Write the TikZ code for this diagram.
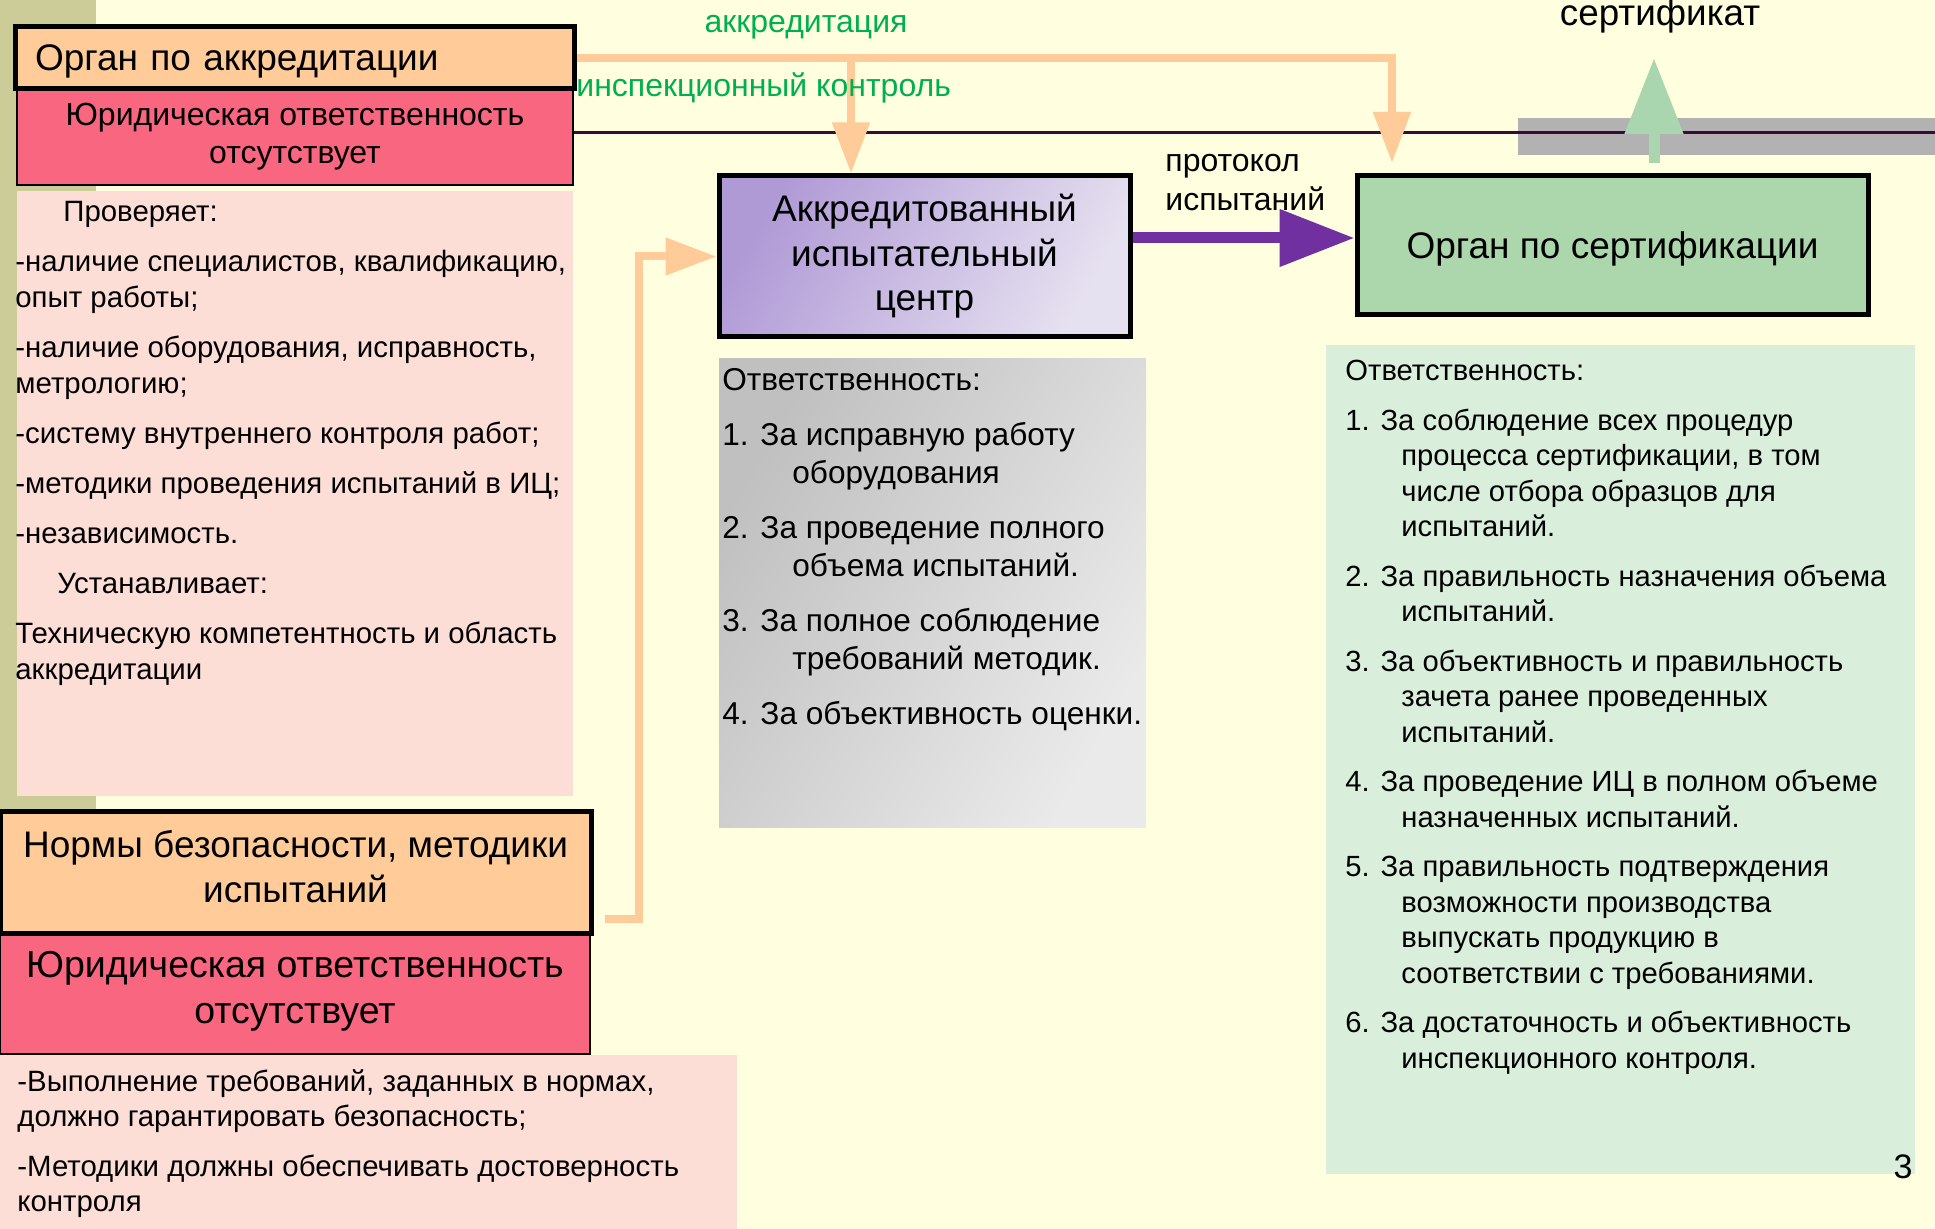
\documentclass[tikz,border=0pt]{standalone}
\usepackage{fontspec}
\setmainfont{Liberation Sans}
\usetikzlibrary{arrows.meta}

\definecolor{bgA}{RGB}{255,255,224}
\definecolor{oliveA}{RGB}{204,204,153}
\definecolor{orangeA}{RGB}{255,204,153}
\definecolor{redA}{RGB}{249,102,128}
\definecolor{pinkA}{RGB}{253,222,214}
\definecolor{labA}{RGB}{176,154,214}
\definecolor{labB}{RGB}{230,225,240}
\definecolor{greyA}{RGB}{192,192,192}
\definecolor{greyB}{RGB}{234,234,234}
\definecolor{certA}{RGB}{172,214,172}
\definecolor{mintA}{RGB}{218,238,220}
\definecolor{barA}{RGB}{178,178,178}
\definecolor{plumA}{RGB}{56,12,56}
\definecolor{violetA}{RGB}{112,48,160}
\definecolor{mintB}{RGB}{170,214,175}
\definecolor{greenT}{RGB}{0,176,80}

\begin{document}
\begin{tikzpicture}[x=0.5pt, y=-0.5pt, every node/.style={inner sep=0pt},
    headbox/.style={draw=black, line width=2.5pt, fill=orangeA},
    nolaw/.style={draw=black, line width=0.6pt, fill=redA, align=center},
    bigtxt/.style={font=\fontsize{18.5}{22.5}\selectfont},
    smalltxt/.style={align=left, anchor=north west, font=\fontsize{14.7}{18}\selectfont},
    greenlab/.style={text=greenT, font=\fontsize{16}{19}\selectfont},
    peach/.style={draw=orangeA, line width=4pt, -{Triangle[length=25.5pt,width=18pt]}}]
    \useasboundingbox (0,0) rectangle (1935,1229);
    \fill[bgA] (0,0) rectangle (1935,1229);
    \fill[oliveA] (0,0) rectangle (96,812);

    % text areas
    \fill[pinkA] (17,191) rectangle (573,796);
    \fill[pinkA] (0,1055) rectangle (737,1229);
    \fill[left color=greyA, right color=greyB, shading angle=60] (719,359) rectangle (1146,828);
    \fill[mintA] (1326,345) rectangle (1915,1174);
    \fill[barA] (1518,118) rectangle (1935,155);

    % boxes
    \node[nolaw, minimum width=278pt, minimum height=48pt, font=\fontsize{16}{19}\selectfont] (accrlaw) at (295,137) {Юридическая ответственность\\отсутствует};
    \node[headbox, minimum width=279.5pt, minimum height=31pt, text width=259.5pt, inner xsep=10pt, align=left, bigtxt] (accr) at (294.5,58) {\rule{0pt}{16pt}Орган по аккредитации};
    \node[nolaw, minimum width=295pt, minimum height=60pt, font=\fontsize{18.75}{23}\selectfont] (normslaw) at (295,994) {Юридическая ответственность\\отсутствует\rule[-6.9pt]{0pt}{6.9pt}};
    \node[headbox, minimum width=295.5pt, minimum height=61pt, align=center, bigtxt] (norms) at (295.5,873) {Нормы безопасности, методики\\испытаний\rule[-7pt]{0pt}{7pt}};
    \node[draw=black, line width=2.5pt, left color=labA, right color=labB, shading angle=60, minimum width=205.5pt, minimum height=80.5pt, align=center, font=\fontsize{18.5}{22.25}\selectfont] (lab) at (924.5,256.5) {Аккредитованный\\испытательный\\центр};
    \node[draw=black, line width=2.5pt, fill=certA, minimum width=255.5pt, minimum height=69.5pt, bigtxt] (cert) at (1612.5,245.5) {\rule{0pt}{17.2pt}Орган по сертификации};

    % connectors
    \coordinate (rule) at (1935,133);
    \draw[plumA, line width=1.5pt] (accrlaw.east |- rule) -- (rule);
    \coordinate (drop) at (851,0);
    \coordinate (certtip) at (1392,163);
    \draw[peach] (accr.east) -| (certtip);
    \draw[peach] (accr.east -| drop) -- (drop |- lab.north);
    \coordinate (nout) at (605,919);
    \draw[peach] (nout) -- ++(34,0) |- (lab.west);
    \coordinate (prot) at (0,238);
    \draw[violetA, line width=5.5pt, -{Triangle[length=37.5pt,width=27.5pt]}] (lab.east |- prot) -- (cert.west |- prot);
    \coordinate (certout) at (1654,163);
    \coordinate (certup) at (1654,58);
    \draw[mintB, line width=5.5pt, -{Triangle[length=38pt,width=28pt]}] (certout) -- (certup);

    % labels
    \node[greenlab] (acclab) at (806,27) {аккредитация};
    \node[greenlab, anchor=west] (insplab) at (576,88) {инспекционный контроль};
    \node[align=left, anchor=north west, font=\fontsize{16}{19.5}\selectfont] (protlab) at (1165,153.5) {протокол\\испытаний};
    \node[font=\fontsize{18.4}{20}\selectfont] (certlab) at (1660,16) {сертификат};
    \node[font=\fontsize{17}{20}\selectfont] (pagenum) at (1903,1167) {3};

    \node[smalltxt] (checks) at (15,201) {\hspace*{24pt}Проверяет:\\[7pt]
        -наличие специалистов, квалификацию,\\
        опыт работы;\\[7pt]
        -наличие оборудования, исправность,\\
        метрологию;\\[7pt]
        -систему внутреннего контроля работ;\\[7pt]
        -методики проведения испытаний в ИЦ;\\[7pt]
        -независимость.\\[7pt]
        \hspace*{21pt}Устанавливает:\\[7pt]
        Техническую компетентность и область\\
        аккредитации};
    \node[smalltxt, font=\fontsize{15.8}{19}\selectfont] (labduty) at (722,368.5) {Ответственность:\\[8.5pt]
        1. За исправную работу\\
        \hspace*{35pt}оборудования\\[8.5pt]
        2. За проведение полного\\
        \hspace*{35pt}объема испытаний.\\[8.5pt]
        3. За полное соблюдение\\
        \hspace*{35pt}требований методик.\\[8.5pt]
        4. За объективность оценки.};
    \node[smalltxt, font=\fontsize{14.6}{17.75}\selectfont] (certduty) at (1345,360) {Ответственность:\\[7pt]
        1. За соблюдение всех процедур\\
        \hspace*{28pt}процесса сертификации, в том\\
        \hspace*{28pt}числе отбора образцов для\\
        \hspace*{28pt}испытаний.\\[7pt]
        2. За правильность назначения объема\\
        \hspace*{28pt}испытаний.\\[7pt]
        3. За объективность и правильность\\
        \hspace*{28pt}зачета ранее проведенных\\
        \hspace*{28pt}испытаний.\\[7pt]
        4. За проведение ИЦ в полном объеме\\
        \hspace*{28pt}назначенных испытаний.\\[7pt]
        5. За правильность подтверждения\\
        \hspace*{28pt}возможности производства\\
        \hspace*{28pt}выпускать продукцию в\\
        \hspace*{28pt}соответствии с требованиями.\\[7pt]
        6. За достаточность и объективность\\
        \hspace*{28pt}инспекционного контроля.};
    \node[smalltxt, font=\fontsize{14.7}{17.5}\selectfont] (normsnote) at (17,1069) {-Выполнение требований, заданных в нормах,\\
        должно гарантировать безопасность;\\[7.5pt]
        -Методики должны обеспечивать достоверность\\
        контроля};
\end{tikzpicture}
\end{document}
